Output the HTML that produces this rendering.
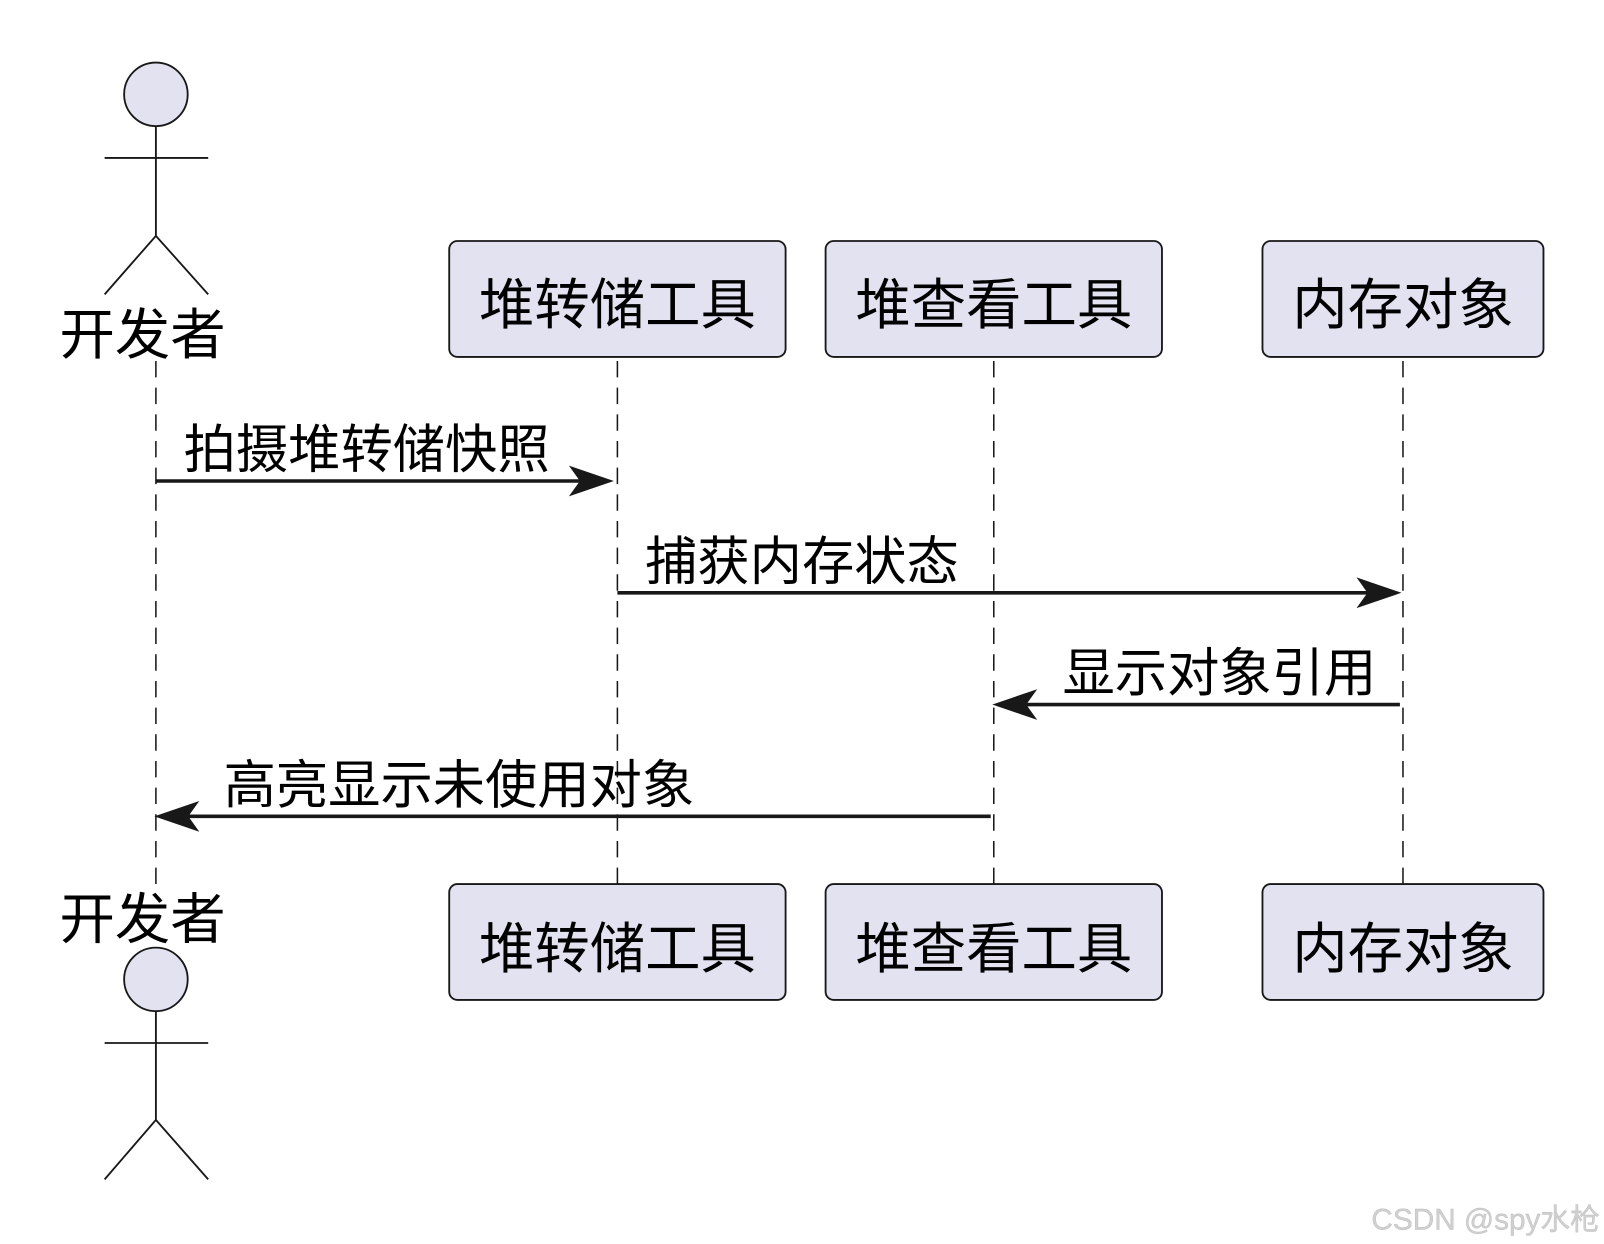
<!DOCTYPE html>
<html><head><meta charset="utf-8"><style>html,body{margin:0;padding:0;background:#fff;}svg{display:block}</style></head>
<body>
<svg width="1604" height="1244" viewBox="0 0 1564 1213" xmlns="http://www.w3.org/2000/svg" font-family="'Liberation Sans','Noto Sans CJK SC',sans-serif">
<rect width="1564" height="1213" fill="#fff"/>
<g stroke="#181818" stroke-width="1.5" stroke-dasharray="16,10" fill="none">
<line x1="152" y1="352" x2="152" y2="862"/>
<line x1="602" y1="352" x2="602" y2="862"/>
<line x1="969" y1="352" x2="969" y2="862"/>
<line x1="1368" y1="352" x2="1368" y2="862"/>
</g>
<g fill="#e2e2f0" stroke="#181818" stroke-width="1.8">
<circle cx="152" cy="92" r="31"/>
<circle cx="152" cy="955" r="31"/>
<rect x="438" y="235" width="328" height="113" rx="8"/>
<rect x="805" y="235" width="328" height="113" rx="8"/>
<rect x="1231" y="235" width="274" height="113" rx="8"/>
<rect x="438" y="862" width="328" height="113" rx="8"/>
<rect x="805" y="862" width="328" height="113" rx="8"/>
<rect x="1231" y="862" width="274" height="113" rx="8"/>
</g>
<g stroke="#181818" stroke-width="1.8" fill="none">
<path d="M152 123V230M102 154H203M102 287L152 230L203 287"/>
<path d="M152 986V1092M102 1017H203M102 1150L152 1092L203 1150"/>
</g>
<g font-size="54" fill="#000">
<text x="58" y="345">开发者</text>
<text x="58" y="915">开发者</text>
<text x="602" y="316" text-anchor="middle">堆转储工具</text>
<text x="969" y="316" text-anchor="middle">堆查看工具</text>
<text x="1368" y="316" text-anchor="middle">内存对象</text>
<text x="602" y="944" text-anchor="middle">堆转储工具</text>
<text x="969" y="944" text-anchor="middle">堆查看工具</text>
<text x="1368" y="944" text-anchor="middle">内存对象</text>
</g>
<g font-size="51" fill="#000">
<text x="179" y="456">拍摄堆转储快照</text>
<text x="629" y="565">捕获内存状态</text>
<text x="1036" y="674">显示对象引用</text>
<text x="218" y="783">高亮显示未使用对象</text>
</g>
<g stroke="#181818" stroke-width="3.5" fill="#181818">
<line x1="152" y1="469" x2="590" y2="469"/>
<path d="M597 469L556 455L566 469L556 483Z" stroke-width="1"/>
<line x1="602" y1="578" x2="1358" y2="578"/>
<path d="M1365 578L1324 564L1334 578L1324 592Z" stroke-width="1"/>
<line x1="1365" y1="687" x2="976" y2="687"/>
<path d="M969 687L1010 673L1000 687L1010 701Z" stroke-width="1"/>
<line x1="966" y1="796" x2="159" y2="796"/>
<path d="M152 796L193 782L183 796L193 810Z" stroke-width="1"/>
</g>
<text x="1560" y="1199" text-anchor="end" font-size="29" fill="#d0d0d0" stroke="#bdbdbd" stroke-width="0.4">CSDN @spy水枪</text>
</svg>
</body></html>
